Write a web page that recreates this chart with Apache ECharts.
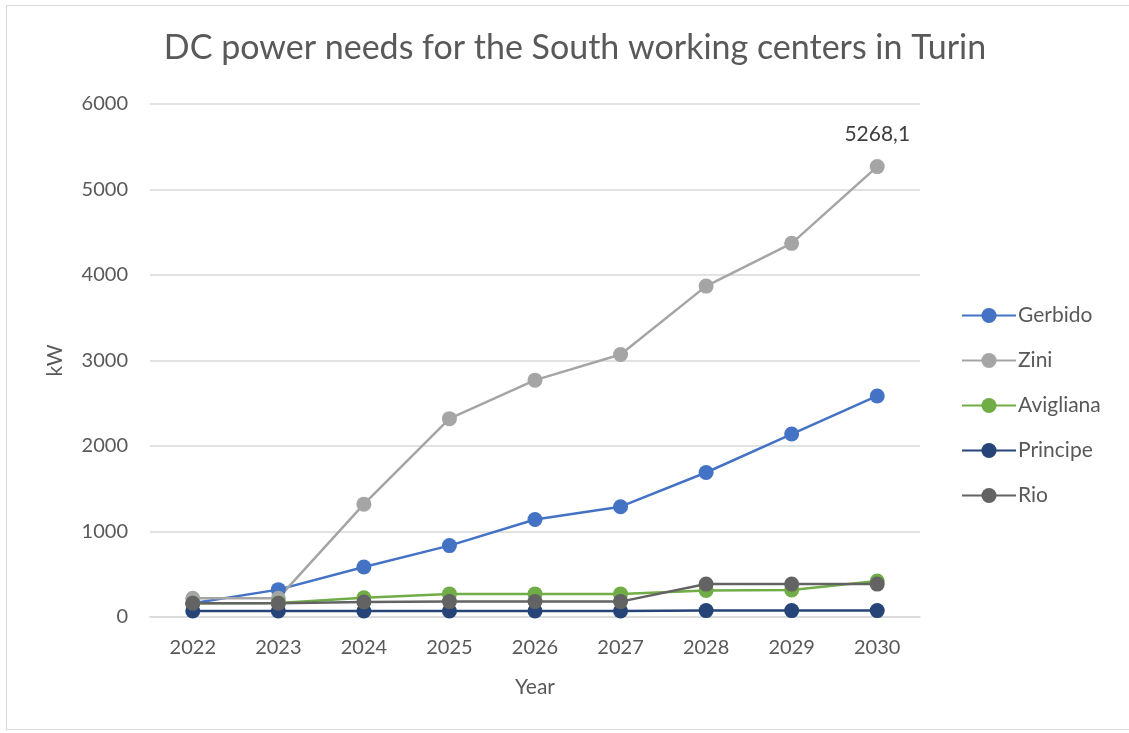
<!DOCTYPE html>
<html>
<head>
<meta charset="utf-8">
<script src="https://cdn.jsdelivr.net/npm/echarts@6/dist/echarts.min.js"></script>
<style>
  html, body { margin: 0; padding: 0; background: #ffffff; }
  #frame { position: absolute; left: 6px; top: 5px; width: 1130px; height: 725px; border: 1px solid #d9d9d9; box-sizing: border-box; }
  #chart { position: absolute; left: 0; top: 0; width: 1129px; height: 733px; }
</style>
</head>
<body>
<div id="frame"></div>
<div id="chart"></div>
<script>
// Years on the category axis
const years = ['2022', '2023', '2024', '2025', '2026', '2027', '2028', '2029', '2030'];

// DC power needs per working center (kW)
const gerbido   = [160, 320, 585, 835, 1140, 1290, 1690, 2140, 2585];
const zini      = [220, 220, 1320, 2320, 2770, 3070, 3870, 4370, 5268.1];
const avigliana = [160, 165, 225, 270, 270, 270, 310, 315, 420];
const principe  = [70, 70, 70, 70, 70, 70, 75, 75, 75];
const rio       = [160, 160, 175, 180, 180, 180, 385, 385, 385];

const yTicks = [0, 1000, 2000, 3000, 4000, 5000, 6000];

const font = 'Lato, "Open Sans", sans-serif';
const textColor = '#595959';

function makeSeries(name, data, color, labelLast) {
  return {
    name: name,
    type: 'line',
    data: data.map((v, i) => {
      if (labelLast && i === data.length - 1) {
        return {
          value: v,
          label: {
            show: true, position: 'top', distance: 14,
            formatter: p => String(p.value).replace('.', ','),
            fontFamily: font, fontSize: 21, color: '#404040'
          }
        };
      }
      return v;
    }),
    symbol: 'circle',
    symbolSize: 15,
    showAllSymbol: true,
    lineStyle: { width: 2.5, color: color },
    itemStyle: { color: color },
    emphasis: { disabled: true },
    animation: false
  };
}

const chart = echarts.init(document.getElementById('chart'), null, { renderer: 'canvas' });
chart.setOption({
  animation: false,
  title: {
    text: 'DC power needs for the South working centers in Turin',
    left: 570, top: 26, textAlign: 'center',
    textStyle: { fontFamily: font, fontSize: 34, fontWeight: 'normal', color: textColor }
  },
  legend: {
    orient: 'vertical',
    left: 956, top: 298,
    itemWidth: 54, itemHeight: 19, itemGap: 20,
    textStyle: { fontFamily: font, fontSize: 21, color: textColor, padding: [0, 0, 0, -3], lineHeight: 25 },
    data: ['Gerbido', 'Zini', 'Avigliana', 'Principe', 'Rio']
  },
  grid: { left: 150, right: 209, top: 104, bottom: 116 },
  xAxis: {
    type: 'category',
    data: years,
    boundaryGap: true,
    name: 'Year', nameLocation: 'middle', nameGap: 60,
    nameTextStyle: { fontFamily: font, fontSize: 21, color: textColor },
    axisLine: { lineStyle: { color: '#d9d9d9', width: 1.5 } },
    axisTick: { show: false },
    axisLabel: { fontFamily: font, fontSize: 20, color: textColor, margin: 21 }
  },
  yAxis: {
    type: 'value',
    min: yTicks[0], max: yTicks[yTicks.length - 1], interval: 1000,
    name: 'kW', nameLocation: 'middle', nameGap: 84, nameRotate: 90,
    nameTextStyle: { fontFamily: font, fontSize: 21, color: textColor },
    axisLine: { show: false },
    axisTick: { show: false },
    axisLabel: { fontFamily: font, fontSize: 20, color: textColor, margin: 22, formatter: v => String(v) },
    splitLine: { lineStyle: { color: '#d9d9d9', width: 1.5 } }
  },
  series: [
    makeSeries('Gerbido', gerbido, '#4472C4'),
    makeSeries('Zini', zini, '#A5A5A5', true),
    makeSeries('Avigliana', avigliana, '#70AD47'),
    makeSeries('Principe', principe, '#264478'),
    makeSeries('Rio', rio, '#636363')
  ]
});
</script>
</body>
</html>
